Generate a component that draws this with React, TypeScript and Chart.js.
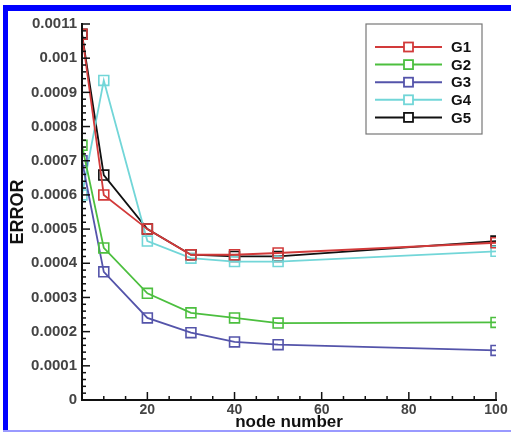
import React, { useEffect, useRef } from "react";
import { Chart, registerables } from "chart.js";

Chart.register(...registerables);

const nodeNumbers = [5, 10, 20, 30, 40, 50, 100];
const seriesNames = ["G1", "G2", "G3", "G4", "G5"];
const g1 = [0.00107, 0.0006, 0.0005, 0.000425, 0.000425, 0.00043, 0.00046];
const g2 = [0.000745, 0.000445, 0.000312, 0.000255, 0.00024, 0.000225, 0.000227];
const g3 = [0.0007, 0.000375, 0.00024, 0.000197, 0.00017, 0.000162, 0.000145];
const g4 = [0.0006, 0.000935, 0.000465, 0.000415, 0.000405, 0.000405, 0.000435];
const g5 = [0.00107, 0.000658, 0.0005, 0.000425, 0.00042, 0.00042, 0.000465];
const seriesColors = ["#d23a3a", "#4cbf3f", "#5454aa", "#72d6d8", "#111111"];
const xTickLabels = [20, 40, 60, 80, 100];
const yTickValues = [0, 0.0001, 0.0002, 0.0003, 0.0004, 0.0005, 0.0006, 0.0007, 0.0008, 0.0009, 0.001, 0.0011];

const FONT = "'Liberation Sans', Arial, sans-serif";

const axesPlugin = {
  id: "innerAxes",
  afterDraw(chart: any) {
    const { ctx, chartArea, scales } = chart;
    const xs = scales.x;
    const ys = scales.y;
    ctx.save();
    ctx.strokeStyle = "#111";
    ctx.lineWidth = 2;
    ctx.beginPath();
    ctx.moveTo(chartArea.left, chartArea.top - 1);
    ctx.lineTo(chartArea.left, chartArea.bottom);
    ctx.lineTo(chartArea.right + 1, chartArea.bottom);
    ctx.stroke();
    ctx.lineWidth = 1.5;
    for (let i = 0; i <= 55; i++) {
      const v = i * 0.00002;
      const py = ys.getPixelForValue(v);
      const major = i % 5 === 0;
      ctx.beginPath();
      ctx.moveTo(chartArea.left, py);
      ctx.lineTo(chartArea.left + (major ? 8 : 4), py);
      ctx.stroke();
    }
    for (let v = 10; v <= 100; v += 5) {
      const px = xs.getPixelForValue(v);
      const major = v % 20 === 0;
      ctx.beginPath();
      ctx.moveTo(px, chartArea.bottom);
      ctx.lineTo(px, chartArea.bottom - (major ? 8 : 4));
      ctx.stroke();
    }
    const lx = 366, ly = 24, lw = 116, lh = 110;
    ctx.strokeStyle = "#777";
    ctx.lineWidth = 1.2;
    ctx.strokeRect(lx, ly, lw, lh);
    chart.data.datasets.forEach((ds: any, i: number) => {
      const y = 47 + i * 17.6;
      ctx.strokeStyle = ds.borderColor;
      ctx.lineWidth = 2;
      ctx.beginPath();
      ctx.moveTo(375, y);
      ctx.lineTo(442, y);
      ctx.stroke();
      ctx.fillStyle = "#fff";
      ctx.fillRect(404, y - 4.5, 9, 9);
      ctx.lineWidth = 1.8;
      ctx.strokeRect(404, y - 4.5, 9, 9);
      ctx.fillStyle = "#111";
      ctx.font = `bold 15px ${FONT}`;
      ctx.textBaseline = "middle";
      ctx.textAlign = "left";
      ctx.fillText(ds.label, 451, y + 1);
    });
    ctx.restore();
  },
};

export default function App() {
  const ref = useRef<HTMLCanvasElement>(null);
  useEffect(() => {
    const all = [g1, g2, g3, g4, g5];
    const chart = new Chart(ref.current!, {
      type: "line",
      data: {
        datasets: all.map((arr, i) => ({
          label: seriesNames[i],
          data: arr.map((v, j) => ({ x: nodeNumbers[j], y: v })),
          borderColor: seriesColors[i],
          backgroundColor: "transparent",
          pointBorderColor: seriesColors[i],
          pointBackgroundColor: "transparent",
          pointStyle: "rect",
          pointRadius: 7,
          pointBorderWidth: 1.6,
          borderWidth: 1.8,
          tension: 0,
        })),
      },
      options: {
        animation: false,
        responsive: false,
        events: [],
        layout: { padding: { left: 0, right: 15, top: 24, bottom: 0 } },
        plugins: { legend: { display: false }, tooltip: { enabled: false } },
        scales: {
          x: {
            type: "linear",
            min: 5,
            max: 100,
            border: { display: false },
            grid: { display: false, drawTicks: false },
            afterBuildTicks: (s: any) => {
              s.ticks = xTickLabels.map((v) => ({ value: v }));
            },
            afterFit: (s: any) => {
              s.height = 33;
            },
            ticks: {
              padding: 2,
              color: "#444",
              font: { family: FONT, size: 14, weight: "bold" },
              callback: (v: any) => String(v),
              maxRotation: 0,
            },
            title: {
              display: true,
              text: "node number",
              color: "#111",
              font: { family: FONT, size: 17, weight: "bold" },
              padding: { top: -1, bottom: 0 },
            },
          },
          y: {
            type: "linear",
            min: 0,
            max: 0.0011,
            border: { display: false },
            grid: { display: false, drawTicks: false },
            afterBuildTicks: (s: any) => {
              s.ticks = yTickValues.map((v) => ({ value: v }));
            },
            afterFit: (s: any) => {
              s.width = 82;
            },
            ticks: {
              padding: 5,
              color: "#444",
              font: { family: FONT, size: 15, weight: "bold" },
              callback: (v: any) => String(parseFloat(Number(v).toFixed(6))),
            },
            title: {
              display: true,
              text: "ERROR",
              color: "#111",
              font: { family: FONT, size: 18, weight: "bold" },
              padding: { top: 7, bottom: 0 },
            },
          },
        },
      },
      plugins: [axesPlugin],
    });
    return () => chart.destroy();
  }, []);
  return (
    <div style={{ position: "absolute", left: 0, top: 0, width: 511, height: 433, background: "#fff" }}>
      <canvas ref={ref} width={511} height={433} style={{ position: "absolute", left: 0, top: 0 }} />
      <div style={{ position: "absolute", left: 3, top: 5, width: 508, height: 6, background: "#0000ff" }} />
      <div style={{ position: "absolute", left: 3, top: 5, width: 5, height: 427, background: "#0000ff" }} />
      <div style={{ position: "absolute", left: 3, top: 430, width: 508, height: 2, background: "#9a9aff" }} />
    </div>
  );
}
